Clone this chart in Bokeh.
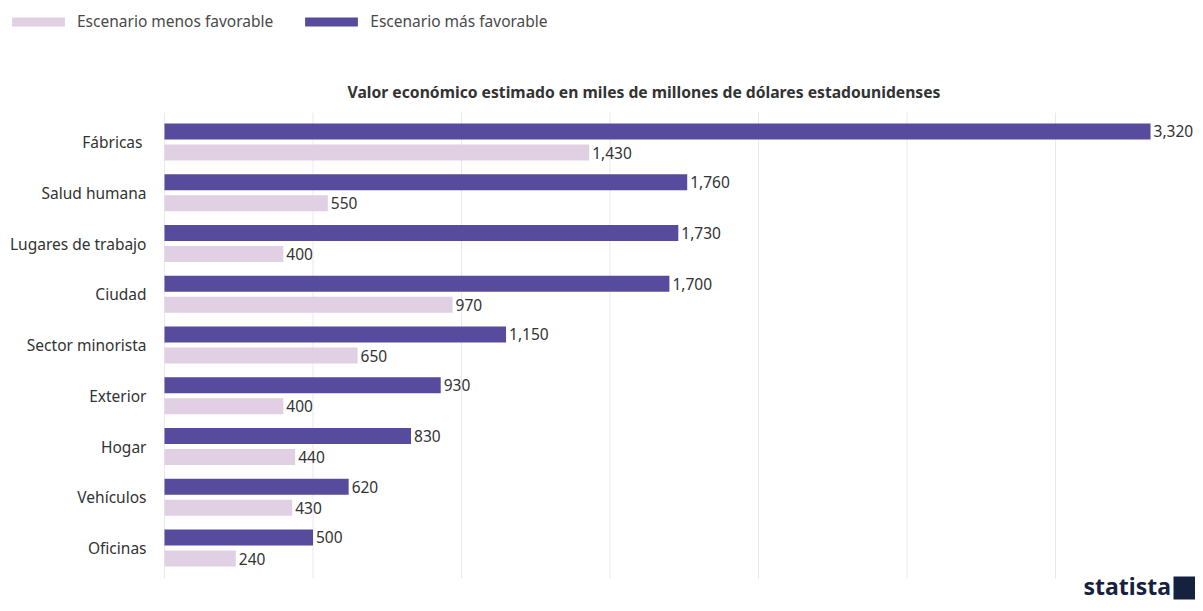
from bokeh.plotting import figure
from bokeh.models import (ColumnDataSource, Range1d, Legend, LegendItem, Label, BoxAnnotation)
from bokeh.core.properties import value
from bokeh.transform import dodge
from bokeh.embed import file_html
from bokeh.resources import INLINE

categories = ["Fábricas ", "Salud humana", "Lugares de trabajo", "Ciudad", "Sector minorista",
              "Exterior", "Hogar", "Vehículos", "Oficinas"]
menos_favorable = [1430, 550, 400, 970, 650, 400, 440, 430, 240]
mas_favorable = [3320, 1760, 1730, 1700, 1150, 930, 830, 620, 500]
grid_ticks = [0, 500, 1000, 1500, 2000, 2500, 3000]
series_names = ["Escenario menos favorable", "Escenario más favorable"]
chart_title = "Valor económico estimado en miles de millones de dólares estadounidenses"

DARK = "#574b9d"
LIGHT = "#e1cfe4"
FONT = "Noto Sans"
TXT = "#333333"

W, H = 1195, 603
X0 = 164          # pixel of value 0
PXU = 0.297       # pixels per unit
ROW0 = 141.5      # pixel centre of first row
ROWH = 50.75      # pixels per row

n = len(categories)
rows = list(range(n))
src = ColumnDataSource(dict(
    y=rows, cat=categories, low=menos_favorable, high=mas_favorable,
    low_txt=[f"{v:,}" for v in menos_favorable],
    high_txt=[f"{v:,}" for v in mas_favorable],
))

p = figure(width=W, height=H, output_backend="svg", toolbar_location=None,
           x_range=Range1d(-X0 / PXU, (W - X0) / PXU),
           y_range=Range1d((H - ROW0) / ROWH, -ROW0 / ROWH),
           min_border=0, x_axis_type=None, y_axis_type=None)
p.outline_line_color = None
p.grid.visible = False
p.background_fill_color = "white"
p.border_fill_color = "white"

# grid lines
y_top, y_bot = -0.58, n - 1 + 0.6
p.segment(x0=grid_ticks, x1=grid_ticks, y0=y_top, y1=y_bot, line_color="#ebe7f0", line_width=1)

off = 0.207
bh = 0.315
r_dark = p.hbar(y=dodge("y", -off), right="high", left=0, height=bh, source=src,
                fill_color=DARK, line_color=None)
r_light = p.hbar(y=dodge("y", off), right="low", left=0, height=bh, source=src,
                 fill_color=LIGHT, line_color=None)

for col, txt, o in (("high", "high_txt", -off), ("low", "low_txt", off)):
    p.text(x=col, y=dodge("y", o), text=txt, source=src, x_offset=3,
           text_baseline="middle", text_align="left", text_font=value(FONT),
           text_font_size="15.5px", text_color=TXT)

# category labels
p.text(x=0, y="y", text="cat", source=src, x_offset=-18, text_align="right",
       text_baseline="middle", text_font=value(FONT), text_font_size="15.5px", text_color=TXT)

legend = Legend(items=[LegendItem(label=series_names[0], renderers=[r_light]),
                       LegendItem(label=series_names[1], renderers=[r_dark])],
                orientation="horizontal", location=(5, 571),
                glyph_width=66, glyph_height=11, label_standoff=6, spacing=25,
                padding=0, margin=0, border_line_color=None, background_fill_alpha=0,
                label_text_font=FONT, label_text_font_size="15.5px", label_text_color="#4a4a4a")
p.add_layout(legend)

title = Label(x=643.5, y=H - 91, x_units="screen", y_units="screen", text=chart_title,
              text_align="center", text_baseline="middle", text_font=FONT,
              text_font_size="15.7px", text_font_style="bold", text_color=TXT)
p.add_layout(title)

logo = Label(x=1083, y=18, x_units="screen", y_units="screen", text="statista",
             text_align="left", text_baseline="alphabetic", text_font=FONT,
             text_font_size="23px", text_font_style="bold", text_color="#15223f")
p.add_layout(logo)
icon = BoxAnnotation(left=1173, right=W, top=27, bottom=4, left_units="screen",
                     right_units="screen", top_units="screen", bottom_units="screen",
                     fill_color="#15223f", fill_alpha=1, line_color=None)
p.add_layout(icon)

open("out.html", "w").write(file_html(p, INLINE))
